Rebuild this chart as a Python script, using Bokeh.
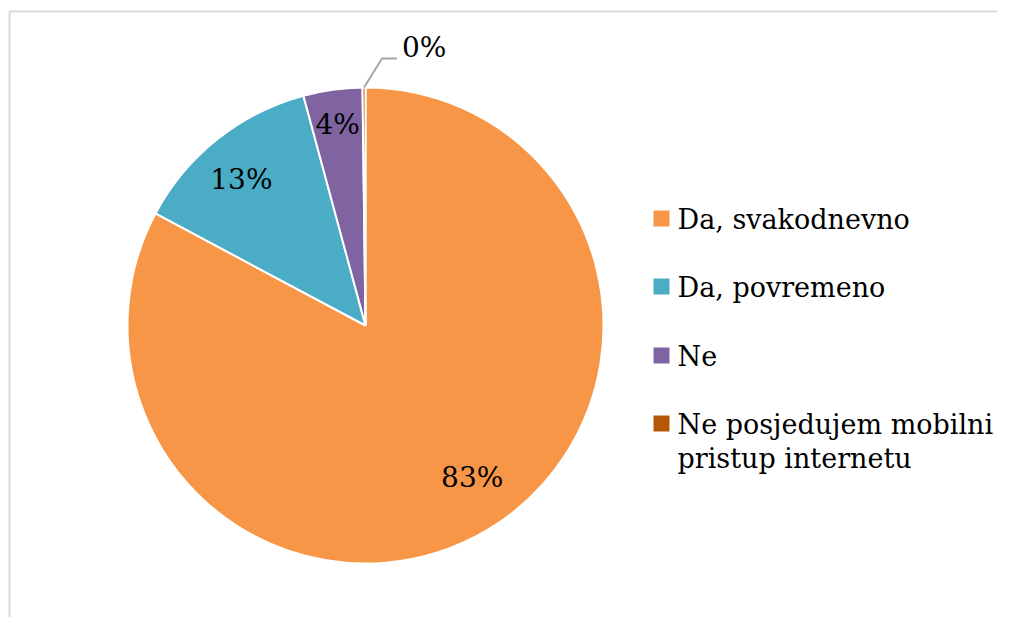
import math
from bokeh.plotting import figure
from bokeh.models import Range1d, ColumnDataSource
from bokeh.core.properties import value
from bokeh.embed import file_html
from bokeh.resources import INLINE

# ---- data ----
categories = ["Da, svakodnevno", "Da, povremeno", "Ne", "Ne posjedujem mobilni\npristup internetu"]
shares = [82.8, 13.0, 4.0, 0.2]
labels = ["83%", "13%", "4%", "0%"]
colors = ["#F79646", "#4BACC6", "#8064A2", "#B65708"]

# label placement nudges (style only)
label_nudge = [(10, 9), (-7, -1), (-2, 15)]

W, H = 997, 617
p = figure(width=W, height=H, output_backend="svg", toolbar_location=None,
           x_range=Range1d(0, W), y_range=Range1d(0, H), min_border=0)
p.axis.visible = False
p.grid.visible = False
p.outline_line_color = None
p.background_fill_color = "white"
p.border_fill_color = "white"

# frame border of the chart area
p.segment(x0=[9, 9], y0=[0, H - 11], x1=[9, W], y1=[H - 11, H - 11],
          line_color="#D9D9D9", line_width=2)

cx, cy, R = 365, 292, 238
total = sum(shares)
starts, ends, mids = [], [], []
cum = 0.0
for s in shares:
    a0 = math.pi / 2 - 2 * math.pi * cum / total
    cum += s
    a1 = math.pi / 2 - 2 * math.pi * cum / total
    starts.append(a0)
    ends.append(a1)
    mids.append((a0 + a1) / 2)

src = ColumnDataSource(dict(start=starts, end=ends, color=colors))
p.wedge(x=cx, y=cy, radius=R, radius_units="screen", start_angle="start", end_angle="end",
        direction="clock", fill_color="color", line_color="white", line_width=2, source=src)

# inside labels
rl = 0.79 * R
lx = [cx + rl * math.cos(m) + label_nudge[i][0] for i, m in enumerate(mids[:3])]
ly = [cy + rl * math.sin(m) + label_nudge[i][1] for i, m in enumerate(mids[:3])]
p.text(x=lx, y=ly, text=labels[:3], text_align="center", text_baseline="middle",
       text_font=value("DejaVu Serif"), text_font_size="28px", text_color="#000000")

# outside label for the tiny slice with leader line
ex = cx + R * math.cos(mids[3])
ey = cy + R * math.sin(mids[3])
p.line(x=[ex, ex + 18, ex + 33], y=[ey, ey + 29, ey + 29], line_color="#A6A6A6", line_width=2)
p.text(x=[ex + 38], y=[ey + 40], text=[labels[3]], text_align="left", text_baseline="middle",
       text_font=value("DejaVu Serif"), text_font_size="28px", text_color="#000000")

# legend
ys = [399, 331, 262, 194]
p.rect(x=[661] * 4, y=ys, width=16, height=16, width_units="screen", height_units="screen",
       fill_color=colors, line_color=None)
leg_x, leg_y, leg_t = [], [], []
for i, c in enumerate(categories):
    for j, line in enumerate(c.split("\n")):
        leg_x.append(677)
        leg_y.append(ys[i] - 1 - 34 * j)
        leg_t.append(line)
p.text(x=leg_x, y=leg_y, text=leg_t, text_align="left", text_baseline="middle",
       text_font=value("DejaVu Serif"), text_font_size="27px", text_color="#000000")

open("out.html", "w").write(file_html(p, INLINE))
